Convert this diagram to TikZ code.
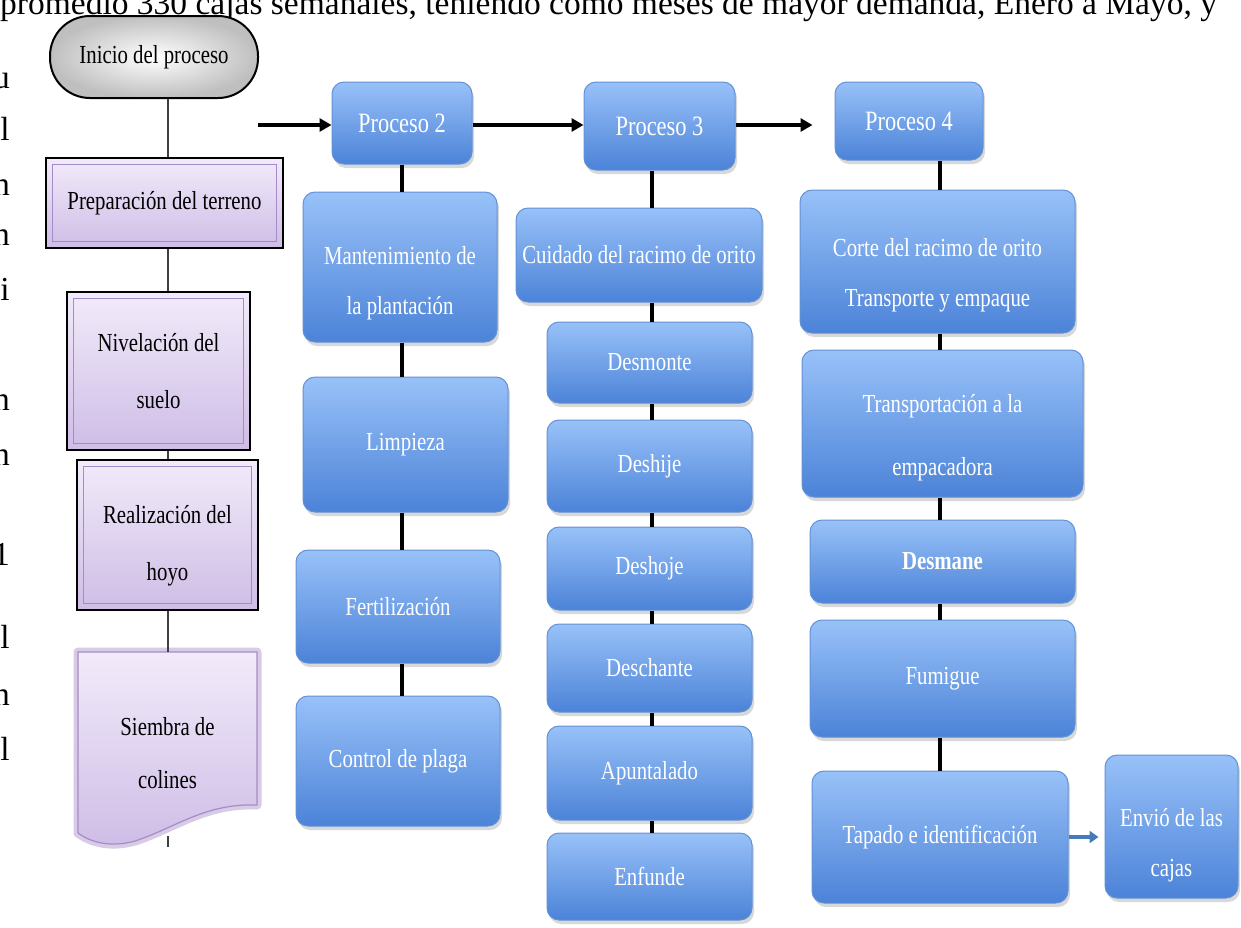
\documentclass[tikz,border=0pt]{standalone}
\usepackage{fontspec}
\setmainfont{Liberation Serif}
\newfontfamily\boxfont[FakeStretch=0.8]{Liberation Serif}
\usepackage{tikz}
\usetikzlibrary{arrows.meta, positioning, calc, shadows}
\definecolor{procblue}{RGB}{152,193,248}
\definecolor{procbluedark}{RGB}{76,131,216}
\definecolor{procedge}{RGB}{98,146,214}
\definecolor{lilaclight}{RGB}{242,235,250}
\definecolor{lilacdark}{RGB}{206,189,230}
\definecolor{lilacedge}{RGB}{165,140,200}
\definecolor{sendblue}{RGB}{72,122,186}

% two lines of text, aligned on the first baseline
\newcommand{\twoline}[3][0pt]{\begin{tabular}[t]{@{}c@{}}#2\\[#1]#3\end{tabular}}

\tikzset{
  blue box/.style={rectangle, rounded corners=12pt, draw=procedge, line width=1pt,
    top color=procblue, bottom color=procbluedark, text=white, align=center, inner sep=0pt,
    font=\boxfont\fontsize{26}{50}\selectfont,
    drop shadow={shadow xshift=2pt, shadow yshift=-4pt, opacity=0.3}},
  lilac box/.style={rectangle, draw=black, line width=1.6pt, top color=lilaclight,
    bottom color=lilacdark, text=black, align=center, inner sep=0pt,
    font=\boxfont\fontsize{26}{50}\selectfont},
  bevel/.style={draw=lilacedge, line width=1.2pt},
  start box/.style={rectangle, rounded corners=40pt, draw=black, line width=2pt,
    inner color=white, outer color=gray!50, text=black, inner sep=0pt,
    font=\boxfont\fontsize{26}{30}\selectfont},
  low text/.style={text height=#1, text depth=40pt},
  head text/.style={font=\boxfont\fontsize{28}{34}\selectfont},
  thin link/.style={draw=black!75, line width=1.3pt},
  thick link/.style={draw=black, line width=4pt},
  flow arrow/.style={draw=black, line width=4pt, -{Triangle[length=12pt,width=13pt]}},
  send arrow/.style={draw=sendblue, line width=4pt, -{Triangle[length=9pt,width=12pt]}},
  cut text/.style={font=\fontsize{33.5}{40}\selectfont, inner sep=0pt}
}

\begin{document}
\begin{tikzpicture}[x=1pt, y=-1pt]
\useasboundingbox[fill=white] (0,0) rectangle (1241,927);

% page text cut by the picture
\node[cut text, anchor=base west] (pagetext) at (0,14)
  {promedio 330 cajas semanales, teniendo como meses de mayor demanda, Enero a Mayo, y};
\foreach \ch/\yy [count=\i] in {u/88, l/140, h/195, n/245, i/300, n/410, n/465, 1/565, l/648, n/705, l/760}
  \node[cut text, anchor=base east] (frag\i) at (10,\yy) {\ch};

% column centres
\coordinate (c1) at (168,0);
\coordinate (c2) at (402,0);
\coordinate (c3) at (652,0);
\coordinate (c4) at (940,0);

% Proceso 1
\node[start box, minimum width=208pt, minimum height=82pt] (ini) at (154,57) {Inicio del proceso};
\node[lilac box, minimum width=237pt, minimum height=90pt] (prep) at (164.5,203) {Preparación del terreno};
\node[lilac box, minimum width=183pt, minimum height=158pt] (niv) at (158.5,371) {Nivelación del\\[7pt]suelo};
\node[lilac box, minimum width=181pt, minimum height=150pt, low text=17pt] (real) at (167.5,535) {\twoline[7pt]{Realización del}{hoyo}};
\foreach \b in {prep, niv, real}
  \draw[bevel] ([shift={(7,7)}]\b.north west) rectangle ([shift={(-7,-7)}]\b.south east);

\coordinate (siemtop) at (168,652);
\coordinate (siembot) at (168,836);
\coordinate (siemend) at (168,847);
\draw[line width=9pt, draw=lilacedge!45, line join=round]
  (78,652) -- (257,652) -- (257,805) .. controls (205,803) and (175,828) .. (135,841)
  .. controls (110,848) and (90,842) .. (78,833) -- cycle;
\draw[draw=lilacedge, line width=1.2pt, top color=lilaclight, bottom color=lilacdark]
  (78,652) -- (257,652) -- (257,805) .. controls (205,803) and (175,828) .. (135,841)
  .. controls (110,848) and (90,842) .. (78,833) -- cycle;
\node[font=\boxfont\fontsize{26}{53}\selectfont, align=center] (siem) at (167.5,753) {Siembra de\\colines};

\draw[thin link] (ini.south -| c1) -- (prep.north -| c1);
\draw[thin link] (prep.south -| c1) -- (niv.north -| c1);
\draw[thin link] (niv.south -| c1) -- (real.north -| c1);
\draw[thin link] (real.south -| c1) -- (siemtop);
\draw[thin link] (siembot) -- (siemend);

% Proceso 2
\node[blue box, head text, minimum width=140pt, minimum height=82pt] (p2) at (402,123) {Proceso 2};
\node[blue box, minimum width=194pt, minimum height=150pt, low text=34pt] (mant) at (400,267) {\twoline{Mantenimiento de}{la plantación}};
\node[blue box, minimum width=205pt, minimum height=135pt] (limp) at (405.5,444.5) {Limpieza};
\node[blue box, minimum width=204pt, minimum height=113pt] (fert) at (398,606.5) {Fertilización};
\node[blue box, minimum width=204pt, minimum height=130pt] (ctrl) at (398,761) {Control de plaga};

% Proceso 3
\node[blue box, head text, minimum width=151pt, minimum height=88pt] (p3) at (659.5,126) {Proceso 3};
\node[blue box, minimum width=246pt, minimum height=94pt] (cuid) at (639,255) {Cuidado del racimo de orito};
\node[blue box, minimum width=205pt, minimum height=81pt] (desmo) at (649.5,362.5) {Desmonte};
\node[blue box, minimum width=205pt, minimum height=92pt] (deshi) at (649.5,466) {Deshije};
\node[blue box, minimum width=205pt, minimum height=83pt] (desho) at (649.5,568.5) {Deshoje};
\node[blue box, minimum width=205pt, minimum height=88pt] (desch) at (649.5,668) {Deschante};
\node[blue box, minimum width=205pt, minimum height=94pt] (apun) at (649.5,773) {Apuntalado};
\node[blue box, minimum width=205pt, minimum height=87pt] (enf) at (649.5,876.5) {Enfunde};

% Proceso 4
\node[blue box, head text, minimum width=148pt, minimum height=78pt] (p4) at (909,121) {Proceso 4};
\node[blue box, minimum width=275pt, minimum height=143pt, low text=30pt] (corte) at (937.5,261.5) {\twoline{Corte del racimo de orito}{Transporte y empaque}};
\node[blue box, minimum width=281pt, minimum height=147pt, low text=17pt] (trans) at (942.5,423.5) {\twoline[13pt]{Transportación a la}{empacadora}};
\node[blue box, minimum width=265pt, minimum height=83pt] (desman) at (942.5,561.5) {\bfseries Desmane};
\node[blue box, minimum width=265pt, minimum height=117pt] (fumi) at (942.5,678.5) {Fumigue};
\node[blue box, minimum width=256pt, minimum height=132pt] (tap) at (940,837) {Tapado e identificación};
\node[blue box, minimum width=133pt, minimum height=143pt, low text=40pt] (env) at (1171.5,826.5) {\twoline{Envió de las}{cajas}};

% links between the steps
\foreach \a/\b in {p2/mant, mant/limp, limp/fert, fert/ctrl}
  \draw[thick link] (\a.south -| c2) -- (\b.north -| c2);
\foreach \a/\b in {p3/cuid, cuid/desmo, desmo/deshi, deshi/desho, desho/desch, desch/apun, apun/enf}
  \draw[thick link] (\a.south -| c3) -- (\b.north -| c3);
\foreach \a/\b in {p4/corte, corte/trans, trans/desman, desman/fumi, fumi/tap}
  \draw[thick link] (\a.south -| c4) -- (\b.north -| c4);

% arrows between the processes
\coordinate (arrowstart) at (258,125);
\draw[flow arrow] (arrowstart) -- (p2.west |- arrowstart);
\draw[flow arrow] (p2.east |- arrowstart) -- (p3.west |- arrowstart);
\draw[flow arrow] (p3.east |- arrowstart) -- ([xshift=-22pt]p4.west |- arrowstart);
\draw[send arrow] (tap.east) -- ([xshift=-6pt]tap.east -| env.west);
\end{tikzpicture}
\end{document}
